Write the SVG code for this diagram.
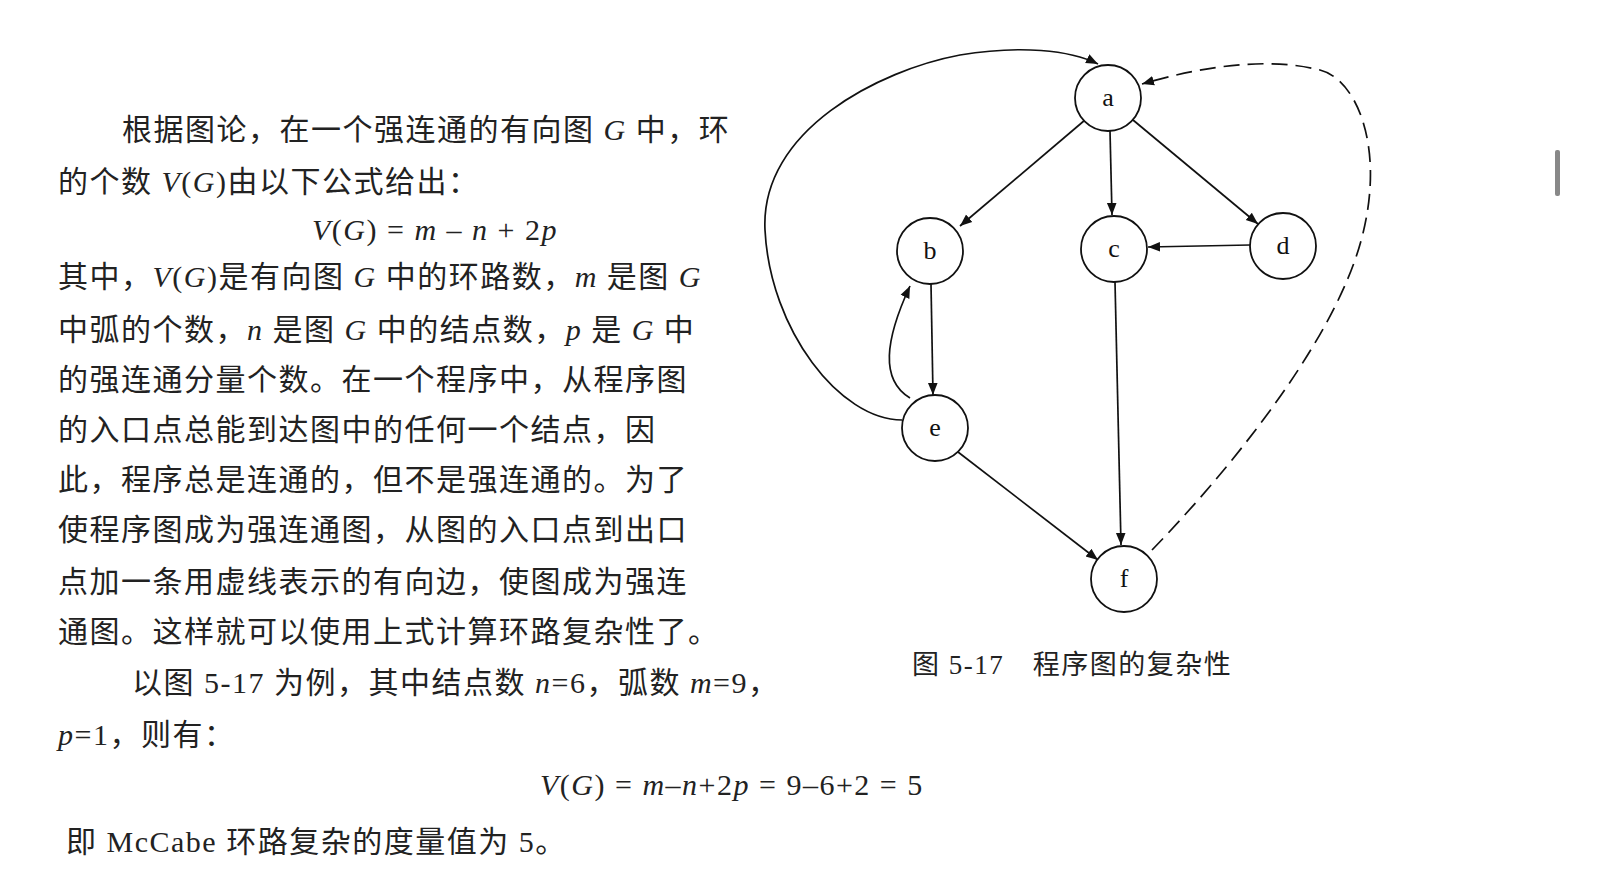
<svg xmlns="http://www.w3.org/2000/svg" width="1603" height="879" viewBox="0 0 1603 879">
<defs>
<style>
.t{font-family:"Liberation Serif","Noto Sans CJK SC",serif;font-size:30px;letter-spacing:1.5px;fill:#222}
.i{font-style:italic}
.n{fill:#fff;stroke:#111;stroke-width:1.8}
.l{font-family:"Liberation Serif",serif;font-size:26px;fill:#111;text-anchor:middle}
.e{fill:none;stroke:#111;stroke-width:1.7}
</style>
<marker id="ar" viewBox="0 0 10 10" refX="10" refY="5" markerWidth="12" markerHeight="12" markerUnits="userSpaceOnUse" orient="auto"><path d="M0,1 L10,5 L0,9 Z" fill="#111"/></marker>
</defs>
<rect width="1603" height="879" fill="#fff"/>
<rect x="1555" y="150" width="5" height="46" rx="2" fill="#888"/>
<g id="text">
<text class="t" x="122" y="140">根据图论，在一个强连通的有向图 <tspan class="i">G</tspan> 中，环</text>
<text class="t" x="58" y="192">的个数 <tspan class="i">V</tspan>(<tspan class="i">G</tspan>)由以下公式给出：</text>
<text class="t" x="312" y="240"><tspan class="i">V</tspan>(<tspan class="i">G</tspan>) = <tspan class="i">m</tspan> – <tspan class="i">n</tspan> + 2<tspan class="i">p</tspan></text>
<text class="t" x="58" y="287">其中，<tspan class="i">V</tspan>(<tspan class="i">G</tspan>)是有向图 <tspan class="i">G</tspan> 中的环路数，<tspan class="i">m</tspan> 是图 <tspan class="i">G</tspan></text>
<text class="t" x="58" y="340">中弧的个数，<tspan class="i">n</tspan> 是图 <tspan class="i">G</tspan> 中的结点数，<tspan class="i">p</tspan> 是 <tspan class="i">G</tspan> 中</text>
<text class="t" x="58" y="390">的强连通分量个数。在一个程序中，从程序图</text>
<text class="t" x="58" y="440">的入口点总能到达图中的任何一个结点，因</text>
<text class="t" x="58" y="490">此，程序总是连通的，但不是强连通的。为了</text>
<text class="t" x="58" y="540">使程序图成为强连通图，从图的入口点到出口</text>
<text class="t" x="58" y="592">点加一条用虚线表示的有向边，使图成为强连</text>
<text class="t" x="58" y="642">通图。这样就可以使用上式计算环路复杂性了。</text>
<text class="t" x="132" y="693">以图 5-17 为例，其中结点数 <tspan class="i">n</tspan>=6，弧数 <tspan class="i">m</tspan>=9，</text>
<text class="t" x="58" y="745"><tspan class="i">p</tspan>=1，则有：</text>
<text class="t" x="540" y="795"><tspan class="i">V</tspan>(<tspan class="i">G</tspan>) = <tspan class="i">m</tspan>–<tspan class="i">n</tspan>+2<tspan class="i">p</tspan> = 9–6+2 = 5</text>
<text class="t" x="66" y="852">即 McCabe 环路复杂的度量值为 5。</text>
<text class="t" x="912" y="674" style="font-size:27px">图 5-17　程序图的复杂性</text>
</g>
<g id="edges">
<line class="e" x1="1085" y1="120" x2="960" y2="226" marker-end="url(#ar)"/>
<line class="e" x1="1110" y1="131" x2="1112" y2="215" marker-end="url(#ar)"/>
<line class="e" x1="1133" y1="120" x2="1258" y2="224" marker-end="url(#ar)"/>
<line class="e" x1="1250" y1="245" x2="1148" y2="247" marker-end="url(#ar)"/>
<line class="e" x1="931" y1="284" x2="933" y2="395" marker-end="url(#ar)"/>
<path class="e" d="M910,398 C880,380 885,340 910,286" marker-end="url(#ar)"/>
<line class="e" x1="1115" y1="282" x2="1121" y2="545" marker-end="url(#ar)"/>
<line class="e" x1="958" y1="452" x2="1098" y2="560" marker-end="url(#ar)"/>
<path class="e" d="M902,420 C840,420 770,330 765,230 C760,130 880,70 960,55 C1020,45 1070,50 1098,64" marker-end="url(#ar)"/>
<path class="e" stroke-width="2" stroke-dasharray="16,8" d="M1152,550 C1220,480 1320,360 1355,260 C1390,160 1360,80 1320,70 C1260,55 1190,70 1142,84" marker-end="url(#ar)"/>
</g>
<g id="a"><circle class="n" cx="1108" cy="98" r="33"/><text class="l" x="1108" y="106">a</text></g>
<g id="b"><circle class="n" cx="930" cy="251" r="33"/><text class="l" x="930" y="259">b</text></g>
<g id="c"><circle class="n" cx="1114" cy="249" r="33"/><text class="l" x="1114" y="257">c</text></g>
<g id="d"><circle class="n" cx="1283" cy="246" r="33"/><text class="l" x="1283" y="254">d</text></g>
<g id="e"><circle class="n" cx="935" cy="428" r="33"/><text class="l" x="935" y="436">e</text></g>
<g id="f"><circle class="n" cx="1124" cy="579" r="33"/><text class="l" x="1124" y="587">f</text></g>
</svg>
